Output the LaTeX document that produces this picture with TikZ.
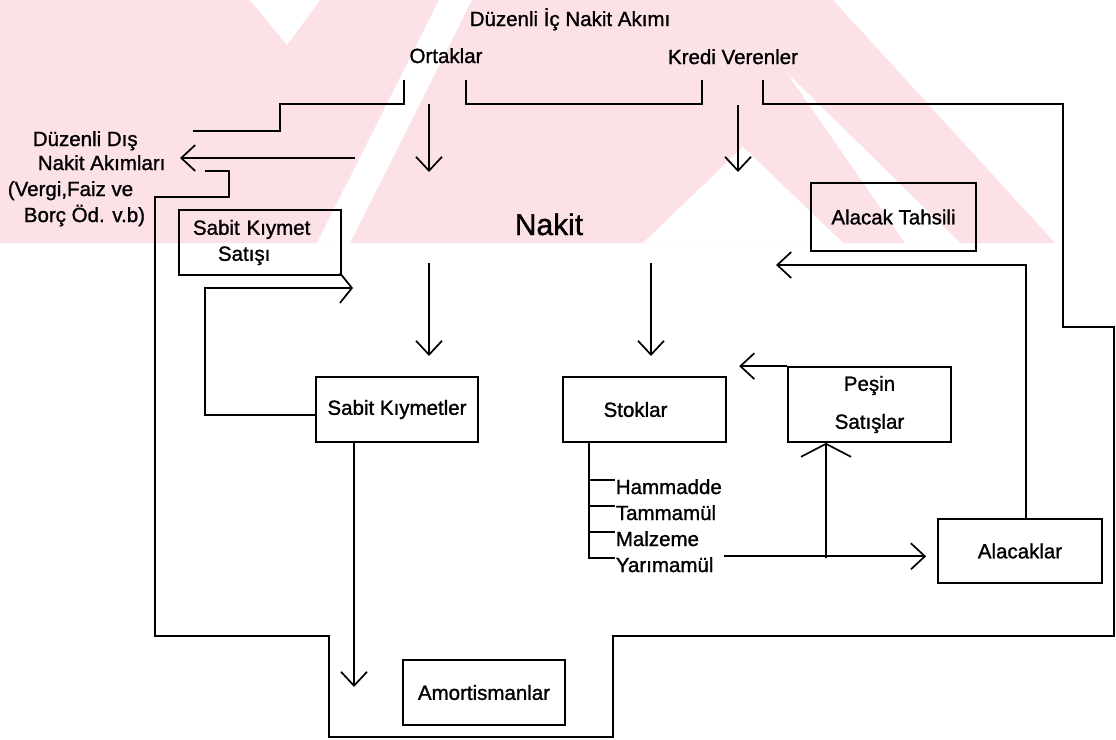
\documentclass[tikz,border=0pt]{standalone}
\usepackage{fontspec}
\setmainfont{Liberation Sans}
\newfontfamily\diagfont{Liberation Sans}[FakeBold=1.2]
\usetikzlibrary{arrows.meta,calc}
\definecolor{wmpink}{RGB}{252,226,231}

\begin{document}
\begin{tikzpicture}[x=1pt,y=-1pt,
  line width=1.7pt,
  every node/.style={font=\diagfont\fontsize{20.5}{24}\selectfont, inner sep=0pt},
  box/.style={draw, line width=1.7pt, minimum width=162pt, minimum height=65pt},
  barb/.style={-{Straight Barb[length=14pt,width=26pt]}},
  barbwide/.style={-{Straight Barb[length=13pt,width=50pt]}},
  barbsale/.style={-{Straight Barb[length=12pt,width=30pt]}},
]
% page and background band
\fill[white] (0,0) rectangle (1116,739);
\useasboundingbox (0,0) rectangle (1116,739);
\fill[wmpink] (0,0) -- (833,0) -- (1055,243) -- (0,243) -- cycle;
\fill[white] (250,0) -- (320,0) -- (287,45) -- cycle;
\fill[white] (439,0) -- (472,0) -- (350,243) -- (317,243) -- cycle;
\fill[white] (643,243) -- (743,147) -- (843,243) -- cycle;
\fill[white] (787,73) -- (960,243) -- (905,243) -- cycle;

% headings
\node[anchor=base] (title) at (570,26) {Düzenli İç Nakit Akımı};
\node[anchor=base] (ortak) at (446,63) {Ortaklar};
\node[anchor=base] (kredi) at (733,64) {Kredi Verenler};
\node[anchor=base, font=\diagfont\fontsize{30}{36}\selectfont] (nakit) at (549,235) {Nakit};

% external cash flow label
\node[anchor=base west] (dis1) at (32,146) {Düzenli Dış};
\node[anchor=base west] (dis2) at (37,170) {Nakit Akımları};
\node[anchor=base west] (dis3) at (7,196) {(Vergi,Faiz ve};
\node[anchor=base west] (dis4) at (23,222) {Borç Öd. v.b)};

% boxes
\node[box, text width=134pt, align=left, font=\diagfont\fontsize{20.5}{26}\selectfont]
  (ssat) at (260,242.5) {Sabit Kıymet\\\hspace*{25pt}Satışı};
\node[box] (skym) at (397,409.5) {Sabit Kıymetler};
\node[box, minimum width=163pt] (stok) at (644.5,409.5) {Stoklar\hspace*{18pt}};
\node[box, minimum width=163pt, minimum height=75pt, align=center,
  font=\diagfont\fontsize{20.5}{38}\selectfont] (pesin) at (869.5,404.5) {Peşin\\Satışlar};
\node[box, minimum width=164pt, minimum height=64pt] (alac) at (1020,551) {Alacaklar};
\node[box, minimum width=165pt, minimum height=68pt] (atah) at (893.5,217) {Alacak Tahsili};
\node[box] (amort) at (484,692.5) {Amortismanlar};

% inventory items
\node[anchor=base west] (ham) at (615,494) {Hammadde};
\node[anchor=base west] (tam) at (615,520) {Tammamül};
\node[anchor=base west] (mal) at (615,546) {Malzeme};
\node[anchor=base west] (yar) at (615,572) {Yarımamül};

% free ends and bends
\coordinate (oL) at (404,80);
\coordinate (oR) at (466,80);
\coordinate (kL) at (702,80);
\coordinate (kR) at (763,80);
\coordinate (oStep) at (280,104);
\coordinate (oEnd) at (193,131);
\coordinate (oTop) at (429,104);
\coordinate (oTip) at (429,172);
\coordinate (kTop) at (738,105);
\coordinate (kTip) at (738,172);
\coordinate (n1) at (429,263);
\coordinate (n1tip) at (429,356);
\coordinate (n2) at (651,263);
\coordinate (n2tip) at (651,356);
\coordinate (disStart) at (355,158);
\coordinate (disTip) at (180,158);
\coordinate (saleBend) at (205,288);
\coordinate (saleTip) at (353,288);
\coordinate (amTip) at (354,687);
\coordinate (colTip) at (776,265);
\coordinate (split) at (826,558);
\coordinate (stem) at ([xshift=-55.5pt]stok.south);
\coordinate (yEnd) at ($(alac.west |- yar.north east)+(-11,0)$);
\coordinate (cashTip) at ($(pesin.north west)+(-48,0)$);

% partners and lenders
\draw (oL) |- (oStep) |- (oEnd);
\draw (oR) |- (kL |- oStep) -- (kL);
\draw[barb] (oTop) -- (oTip);
\draw[barb] (kTop) -- (kTip);

% outer boundary of the business
\draw (kR) |- (1063,104) |- (1114,327) |- (613,636) |- (329,737)
      |- (155,636) |- (229,197) |- (205,171);

% outflow to the external label
\draw[barb] (disStart) -- (disTip);

% cash into assets
\draw[barb] (n1) -- (n1tip);
\draw[barb] (n2) -- (n2tip);

% fixed assets
\draw[barbsale] ([yshift=-5.5pt]skym.west) -| (saleBend) -- (saleTip);
\draw[barb] (amTip |- skym.south) -- (amTip);

% inventory breakdown
\draw (stem) |- ([yshift=14pt]yar.base west);
\draw ([yshift=14pt]ham.base west) -- ++(-26,0);
\draw ([yshift=14pt]tam.base west) -- ++(-26,0);
\draw ([yshift=14pt]mal.base west) -- ++(-26,0);

% sales
\draw[barb] ([xshift=10pt]yar.north east) -- (yEnd);
\draw[barbwide] (split) -- (split |- pesin.south);
\draw[barb] (pesin.north west) -- (cashTip);
\draw[barb] ([xshift=6pt]alac.north) |- (colTip);
\end{tikzpicture}
\end{document}
